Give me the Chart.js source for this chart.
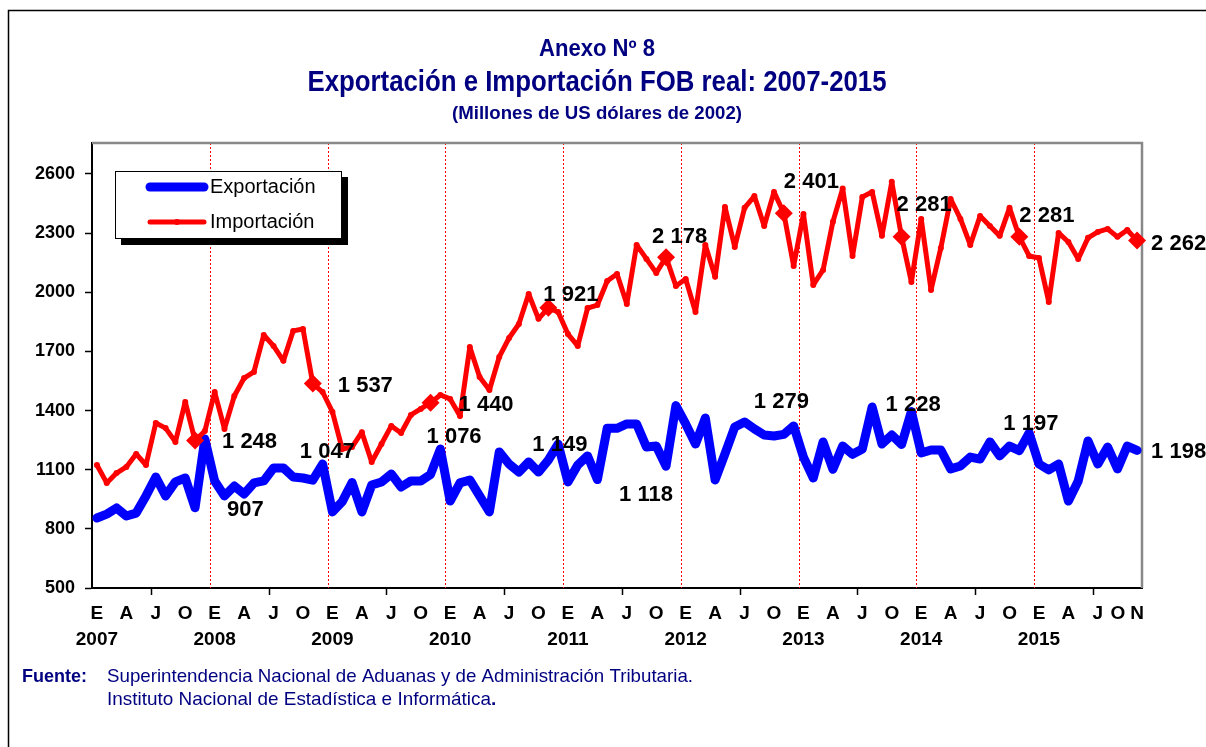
<!DOCTYPE html>
<html>
<head>
<meta charset="utf-8">
<script src="https://cdn.jsdelivr.net/npm/chart.js@4.4.1/dist/chart.umd.min.js"></script>
<style>
  html, body { margin: 0; padding: 0; background: #fff; }
  #wrap { width: 1206px; height: 747px; }
</style>
</head>
<body>
<div id="wrap"><canvas id="chart" width="1206" height="747"></canvas></div>
<script>
const meses = ['E', 'F', 'M', 'A', 'M', 'J', 'J', 'A', 'S', 'O', 'N', 'D']
const anios = [2007, 2008, 2009, 2010, 2011, 2012, 2013, 2014, 2015]

// Millones de US dólares de 2002, enero 2007 - noviembre 2015
const exportacion = [
  855, 875, 906, 865, 880, 967, 1063, 967, 1038, 1058, 907, 1256,
  1043, 967, 1017, 977, 1033, 1043, 1109, 1109, 1063, 1058, 1047, 1129,
  886, 938, 1035, 886, 1022, 1038, 1078, 1012, 1043, 1043, 1076, 1205,
  941, 1033, 1048, 967, 886, 1190, 1129, 1088, 1139, 1088, 1149, 1230,
  1038, 1124, 1170, 1050, 1310, 1310, 1332, 1332, 1215, 1220, 1118, 1425,
  1332, 1230, 1362, 1048, 1180, 1317, 1342, 1307, 1276, 1271, 1279, 1322,
  1164, 1058, 1241, 1102, 1220, 1178, 1205, 1418, 1230, 1276, 1228, 1395,
  1185, 1200, 1200, 1104, 1119, 1164, 1154, 1241, 1170, 1220, 1197, 1286,
  1129, 1099, 1129, 941, 1043, 1246, 1129, 1215, 1104, 1220, 1198
]
const importacion = [
  1124, 1033, 1083, 1114, 1180, 1124, 1337, 1311, 1241, 1444, 1248, 1296,
  1494, 1307, 1474, 1565, 1596, 1783, 1728, 1652, 1804, 1814, 1537, 1494,
  1393, 1205, 1215, 1290, 1139, 1230, 1322, 1286, 1378, 1408, 1440, 1479,
  1459, 1372, 1722, 1570, 1504, 1672, 1768, 1839, 1991, 1865, 1921, 1900,
  1788, 1728, 1920, 1935, 2057, 2093, 1941, 2240, 2169, 2098, 2178, 2032,
  2067, 1900, 2240, 2078, 2433, 2230, 2428, 2488, 2336, 2509, 2401, 2133,
  2397, 2037, 2113, 2357, 2526, 2184, 2483, 2509, 2286, 2560, 2281, 2052,
  2372, 2012, 2225, 2473, 2372, 2240, 2387, 2336, 2286, 2428, 2281, 2184,
  2174, 1951, 2301, 2255, 2169, 2276, 2306, 2321, 2281, 2316, 2262
]
const yTicks = [500, 800, 1100, 1400, 1700, 2000, 2300, 2600]

// noviembre de cada año lleva rombo y etiqueta de valor
const MES_ETIQUETA = 10

// desplazamiento (px) de cada etiqueta respecto a su punto
const despImport = [[27, 1], [25, 2], [28, 2], [-5, -13], [-14, -20], [0, -31], [-5, -32], [0, -21], [14, 3]]
const despExport = [[32, 2], [-13, -28], [-4, -37], [-16, -15], [-47, 29], [-30, -32], [-16, -40], [-16, -27], [14, 2]]

const labels = []
anios.forEach((a) => {
  meses.forEach((m, j) => {
    if (labels.length < exportacion.length) labels.push(j === 0 ? [m, String(a)] : m)
  })
})

const FONT = '"Liberation Sans", Arial, sans-serif'
const NAVY = '#000080'

const fmt = (v) => String(v).replace(/\B(?=(\d{3})+(?!\d))/g, ' ')
const esNov = (i) => i % 12 === MES_ETIQUETA

// etiqueta del eje X: E, A, J, O y el último mes; la "O" final se corre a la izquierda
const etiquetaX = (i) => {
  const n = labels.length
  if (i === n - 2) return labels[i] + '\u2003'
  return i % 3 === 0 || i === n - 1 ? labels[i] : ''
}

const fondo = {
  id: 'fondo',
  beforeDraw(chart) {
    const { ctx, width, height } = chart
    ctx.save()
    ctx.fillStyle = '#fff'
    ctx.fillRect(0, 0, width, height)

    // marco exterior
    ctx.strokeStyle = '#000'
    ctx.lineWidth = 1.5
    ctx.beginPath()
    ctx.moveTo(8.5, height)
    ctx.lineTo(8.5, 10.5)
    ctx.lineTo(width, 10.5)
    ctx.stroke()

    // títulos
    ctx.fillStyle = NAVY
    ctx.textAlign = 'center'
    ctx.textBaseline = 'middle'
    ctx.font = 'bold 23px ' + FONT
    ctx.fillText('Anexo Nº 8', 597, 50, 116)
    ctx.font = 'bold 29px ' + FONT
    ctx.fillText('Exportación e Importación FOB real: 2007-2015', 597, 83, 579)
    ctx.font = 'bold 19px ' + FONT
    ctx.fillText('(Millones de US dólares de 2002)', 597, 114, 290)

    // fuente
    ctx.textAlign = 'left'
    ctx.font = 'bold 18px ' + FONT
    ctx.fillText('Fuente:', 22, 677, 66)
    ctx.font = '19px ' + FONT
    ctx.fillText('Superintendencia Nacional de Aduanas y de Administración Tributaria.', 107, 677, 586)
    const t = 'Instituto Nacional de Estadística e Informática'
    ctx.fillText(t, 107, 700, 384)
    const w = Math.min(ctx.measureText(t).width, 384)
    ctx.font = 'bold 19px ' + FONT
    ctx.fillText('.', 107 + w, 700)
    ctx.restore()
  },
}

const marcasAnio = {
  id: 'marcasAnio',
  beforeDatasetsDraw(chart) {
    const { ctx, chartArea: ca, scales: { x } } = chart
    const borde = (i) => (x.getPixelForValue(i - 1) + x.getPixelForValue(i)) / 2
    ctx.save()
    // líneas punteadas en cada enero
    ctx.strokeStyle = '#ff0000'
    ctx.lineWidth = 1
    ctx.setLineDash([2, 2])
    for (let i = 12; i < labels.length; i += 12) {
      const px = Math.round(borde(i)) + 0.5
      ctx.beginPath()
      ctx.moveTo(px, ca.top)
      ctx.lineTo(px, ca.bottom)
      ctx.stroke()
    }
    // marcas del eje X a mitad de año
    ctx.setLineDash([])
    ctx.strokeStyle = '#000'
    ctx.lineWidth = 1.5
    for (let i = 6; i < labels.length; i += 12) {
      const px = Math.round(borde(i)) + 0.5
      ctx.beginPath()
      ctx.moveTo(px, ca.bottom)
      ctx.lineTo(px, ca.bottom + 7)
      ctx.stroke()
    }
    // borde gris superior y derecho del área de trazado
    ctx.strokeStyle = '#888'
    ctx.lineWidth = 2.5
    ctx.beginPath()
    ctx.moveTo(ca.left, ca.top)
    ctx.lineTo(ca.right, ca.top)
    ctx.lineTo(ca.right, ca.bottom)
    ctx.stroke()
    ctx.restore()
  },
}

const etiquetas = {
  id: 'etiquetas',
  afterDatasetsDraw(chart) {
    const { ctx } = chart
    const desp = { 'Importación': despImport, 'Exportación': despExport }
    ctx.save()
    ctx.font = 'bold 22px ' + FONT
    ctx.fillStyle = '#000'
    ctx.textAlign = 'left'
    ctx.textBaseline = 'middle'
    chart.data.datasets.forEach((ds, di) => {
      const meta = chart.getDatasetMeta(di)
      desp[ds.label].forEach(([dx, dy], k) => {
        const i = MES_ETIQUETA + 12 * k
        const p = meta.data[i]
        ctx.fillText(fmt(ds.data[i]), p.x + dx, p.y + dy)
      })
    })
    ctx.restore()
  },
}

const leyenda = {
  id: 'leyenda',
  afterDraw(chart) {
    const { ctx } = chart
    const ds = {}
    chart.data.datasets.forEach((d) => { ds[d.label] = d })
    ctx.save()
    ctx.fillStyle = '#000'
    ctx.fillRect(121, 177, 227, 68)
    ctx.fillStyle = '#fff'
    ctx.fillRect(115, 171, 227, 68)
    ctx.strokeStyle = '#000'
    ctx.lineWidth = 1
    ctx.strokeRect(115.5, 171.5, 226, 67)

    const items = [
      { d: ds['Exportación'], y: 187, marca: false },
      { d: ds['Importación'], y: 222, marca: true },
    ]
    ctx.lineCap = 'round'
    items.forEach(({ d, y, marca }) => {
      ctx.strokeStyle = d.borderColor
      ctx.lineWidth = d.borderWidth
      ctx.beginPath()
      ctx.moveTo(150, y)
      ctx.lineTo(204, y)
      ctx.stroke()
      if (marca) {
        ctx.fillStyle = d.borderColor
        ctx.beginPath()
        ctx.arc(177, y, 3, 0, Math.PI * 2)
        ctx.fill()
      }
      ctx.fillStyle = '#000'
      ctx.font = '20px ' + FONT
      ctx.textAlign = 'left'
      ctx.textBaseline = 'middle'
      ctx.fillText(d.label, 210, y)
    })
    ctx.restore()
  },
}

new Chart(document.getElementById('chart'), {
  type: 'line',
  data: {
    labels: labels,
    datasets: [
      {
        label: 'Exportación',
        data: exportacion,
        borderColor: '#0000ff',
        backgroundColor: '#0000ff',
        borderWidth: 9,
        borderJoinStyle: 'round',
        borderCapStyle: 'round',
        pointRadius: 0,
        tension: 0,
        order: 1,
        clip: false,
      },
      {
        label: 'Importación',
        data: importacion,
        borderColor: '#ff0000',
        backgroundColor: '#ff0000',
        borderWidth: 5,
        borderJoinStyle: 'round',
        pointRadius: (c) => (esNov(c.dataIndex) ? 9 : 3),
        pointStyle: (c) => (esNov(c.dataIndex) ? 'rectRot' : 'circle'),
        pointBorderWidth: 0,
        tension: 0,
        order: 0,
        clip: false,
      },
    ],
  },
  options: {
    responsive: false,
    animation: false,
    events: [],
    layout: {
      padding: { top: 143, right: 64, left: 0, bottom: 0 },
    },
    plugins: {
      legend: { display: false },
      tooltip: { enabled: false },
      title: { display: false },
    },
    scales: {
      x: {
        type: 'category',
        offset: true,
        grid: { display: false, drawTicks: false },
        border: { display: true, color: '#000', width: 2 },
        afterFit: (s) => { s.height = 159 },
        ticks: {
          autoSkip: false,
          maxRotation: 0,
          padding: 13,
          color: '#000',
          font: { family: FONT, size: 19, weight: 'bold', lineHeight: 1.37 },
          callback: (v, i) => etiquetaX(i),
        },
      },
      y: {
        min: 500,
        max: 2757,
        afterBuildTicks: (s) => { s.ticks = yTicks.map((v) => ({ value: v })) },
        afterFit: (s) => { s.width = 92 },
        grid: { drawOnChartArea: false, drawTicks: true, tickLength: 7, tickColor: '#000', tickWidth: 1.5 },
        border: { display: true, color: '#000', width: 2 },
        ticks: {
          padding: 10,
          color: '#000',
          font: { family: FONT, size: 18, weight: 'bold' },
          callback: (v) => String(v),
        },
      },
    },
  },
  plugins: [fondo, marcasAnio, etiquetas, leyenda],
})
</script>
</body>
</html>
